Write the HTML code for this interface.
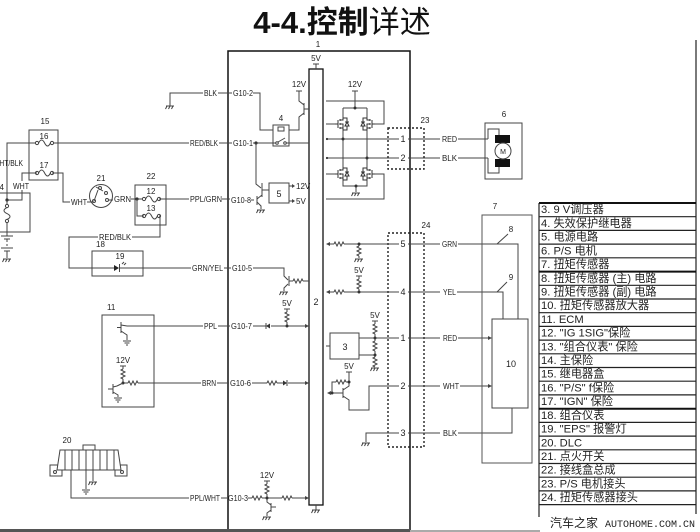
<!DOCTYPE html>
<html><head><meta charset="utf-8">
<style>
html,body{margin:0;padding:0;background:#fff;}
svg{display:block;}
text{font-family:"Liberation Sans","Noto Sans CJK SC",sans-serif;fill:#222;}
.s{font-size:8px;}
.n{font-size:8px;}
.w{stroke:#444;stroke-width:1;fill:none;}
.k{stroke:#222;stroke-width:1.2;fill:none;}
.d{stroke:#222;stroke-width:1.4;fill:none;stroke-dasharray:2 2;}
.lg{font-size:11.2px;fill:#111;}
</style></head><body>
<svg width="700" height="532" viewBox="0 0 700 532" xmlns="http://www.w3.org/2000/svg">
<defs>
 <path id="g" d="M-4,0H4M-3,0l-1.5,3M0,0l-1.5,3M3,0l-1.5,3" stroke="#444" fill="none"/>
 <path id="e" d="M-4,0H4M-2.5,2H2.5M-1,4H1" stroke="#444" fill="none"/>
 <path id="rh" d="M0,0l1,-2l2,4l2,-4l2,4l2,-4l1,2" stroke="#444" fill="none"/>
 <path id="rv" d="M0,0l-2,1l4,2l-4,2l4,2l-4,2l2,1" stroke="#444" fill="none"/>
 <g id="fu"><path d="M1.6,0c2,-4 4,-4 6,0s4,4 5.8,0" stroke="#444" fill="none"/><circle cx="0" cy="0" r="1.6" fill="#fff" stroke="#444"/><circle cx="15" cy="0" r="1.6" fill="#fff" stroke="#444"/></g>
 <g id="mf" stroke="#333" fill="none"><path d="M-8,0H-5M-5,-4V4M-3,-5V-3M-3,-1V1M-3,3V5M-3,-4H0V-6M-3,4H0V6M-3,0H0V4M0,-6H4V-2M0,6H4V2M2,-2H6M2,2L4,-2L6,2Z"/></g>
 <g id="fuv"><path d="M0,1.6c-4,2 -4,4 0,6s4,4 0,5.8" stroke="#444" fill="none"/><circle cx="0" cy="0" r="1.6" fill="#fff" stroke="#444"/><circle cx="0" cy="15" r="1.6" fill="#fff" stroke="#444"/></g>
</defs>

<!-- Title -->
<text x="342" y="33" text-anchor="middle" font-size="31" font-weight="bold" style="fill:#111">4-4.控制<tspan font-weight="normal">详述</tspan></text>

<!-- Box 1 -->
<path d="M228,531V51H410V531" stroke="#111" stroke-width="1.5" fill="none"/>
<text x="318" y="47" class="n" text-anchor="middle" font-size="7">1</text>
<rect x="309" y="69" width="14" height="436" fill="#fff" stroke="#111" stroke-width="1.3"/>
<text x="316" y="61" class="s" text-anchor="middle">5V</text>
<path class="w" d="M313,64H319M316,64V69M316,505V510"/>
<use href="#g" x="316" y="510"/>
<text x="316" y="305" font-size="9" text-anchor="middle">2</text>

<!-- BLK G10-2 -->
<path class="w" d="M170,106V93H203M218,93H232M253,93H260V130H273"/>
<use href="#g" x="170" y="106"/>
<text x="204" y="96" class="s" textLength="13" lengthAdjust="spacingAndGlyphs">BLK</text>
<text x="233" y="96" class="s" textLength="20" lengthAdjust="spacingAndGlyphs">G10-2</text>

<!-- Relay 4 -->
<rect x="273" y="125" width="16" height="21" fill="none" stroke="#444"/>
<text x="281" y="121" class="n" text-anchor="middle">4</text>
<rect x="278" y="127" width="6" height="4" fill="none" stroke="#444"/>
<circle cx="277" cy="143" r="1.3" fill="none" stroke="#444"/>
<circle cx="285" cy="143" r="1.3" fill="none" stroke="#444"/>
<path class="w" d="M278,142L285,138"/>
<path class="w" d="M289,130H299V117L304,113M304,103V115M304,105L299,101V91M304,109H309M296,91H302"/>
<text x="299" y="87" class="s" text-anchor="middle">12V</text>

<!-- RED/BLK G10-1 line -->
<path class="w" d="M7,200V143H37M52,143H189M219,143H232M253,143H276M286,143H309"/>
<circle cx="256" cy="143" r="1.6" fill="#333"/>
<text x="190" y="146" class="s" textLength="28" lengthAdjust="spacingAndGlyphs">RED/BLK</text>
<text x="233" y="146" class="s" textLength="20" lengthAdjust="spacingAndGlyphs">G10-1</text>

<!-- transistors near G10-8 / box 5 -->
<path class="w" d="M256,143V184L261,188M262,183V197M262,190H269M262,195L257,199M251,200H254M257,196V205M257,202L261,206V209"/>
<use href="#g" x="261" y="210"/>
<rect x="269" y="183" width="20" height="20" fill="none" stroke="#444"/>
<text x="279" y="197" font-size="9" text-anchor="middle">5</text>
<path class="w" d="M289,186H292M289,201H292"/>
<path d="M292,184L295,186L292,188ZM292,199L295,201L292,203Z" fill="#444"/>
<text x="296" y="189" class="s">12V</text>
<text x="296" y="204" class="s">5V</text>

<!-- Box 15 -->
<rect x="29" y="130" width="29" height="50" fill="none" stroke="#444"/>
<text x="45" y="124" class="n" text-anchor="middle">15</text>
<text x="44" y="139" class="n" text-anchor="middle">16</text>
<text x="44" y="168" class="n" text-anchor="middle">17</text>
<use href="#fu" x="37" y="143"/>
<use href="#fu" x="37" y="173"/>
<path class="w" d="M37,173H22V181M22,190V200H7M52,173H63V202H70M87,202H94"/>
<text x="23" y="166" class="s" text-anchor="end" textLength="30" lengthAdjust="spacingAndGlyphs">WHT/BLK</text>
<text x="13" y="189" class="s" textLength="16" lengthAdjust="spacingAndGlyphs">WHT</text>
<text x="71" y="205" class="s" textLength="16" lengthAdjust="spacingAndGlyphs">WHT</text>

<!-- Box 14 + battery -->
<path class="w" d="M0,193H30V232H0"/>
<text x="4" y="190" class="n" text-anchor="end">14</text>
<circle cx="7" cy="200" r="1.6" fill="#333"/>
<path class="w" d="M7,200V205M7,221V236"/>
<use href="#fuv" x="7" y="206"/>
<path class="w" d="M1,236H13M4,239H10M7,239V242M7,244V246M1,248H13M4,251H10M7,251V258"/>
<use href="#g" x="7" y="259"/>

<!-- Ignition switch 21 -->
<circle cx="101" cy="196" r="11.5" fill="none" stroke="#444"/>
<text x="101" y="181" class="n" text-anchor="middle">21</text>
<circle cx="94" cy="201" r="1.5" fill="none" stroke="#444"/>
<circle cx="100" cy="188" r="1.5" fill="none" stroke="#444"/>
<circle cx="106" cy="193" r="1.5" fill="none" stroke="#444"/>
<circle cx="107" cy="200" r="1.5" fill="none" stroke="#444"/>
<path class="w" d="M94,201L98,190M96,187L103,191"/>
<path class="w" d="M108,200H113M131,199H144"/>
<text x="114" y="202" class="s" textLength="17" lengthAdjust="spacingAndGlyphs">GRN</text>
<circle cx="137" cy="199" r="1.6" fill="#333"/>

<!-- Box 22 -->
<rect x="135" y="185" width="31" height="40" fill="none" stroke="#444"/>
<text x="151" y="179" class="n" text-anchor="middle">22</text>
<text x="151" y="194" class="n" text-anchor="middle">12</text>
<text x="151" y="211" class="n" text-anchor="middle">13</text>
<use href="#fu" x="144" y="199"/>
<use href="#fu" x="144" y="216"/>
<path class="w" d="M159,199H189M137,199V216H144M159,216H160V237H132M98,237H69V268H114M120,268H191"/>
<text x="190" y="202" class="s" textLength="32" lengthAdjust="spacingAndGlyphs">PPL/GRN</text>
<path class="w" d="M222,199H230"/>
<text x="231" y="203" class="s" textLength="20" lengthAdjust="spacingAndGlyphs">G10-8</text>
<text x="99" y="240" class="s" textLength="32" lengthAdjust="spacingAndGlyphs">RED/BLK</text>

<!-- Box 18 -->
<rect x="92" y="251" width="51" height="25" fill="none" stroke="#444"/>
<text x="96" y="247" class="n">18</text>
<text x="120" y="259" class="n" text-anchor="middle">19</text>
<path d="M114,265L114,271L119,268Z" fill="#222"/>
<path class="w" d="M119.5,264V272M122,264l2,-2M124,265l2,-2"/>
<text x="192" y="271" class="s" textLength="31" lengthAdjust="spacingAndGlyphs">GRN/YEL</text>
<path class="w" d="M224,268H231M253,268H284V276L288,280M289,276V286M288,284L284,288V291M289,281H293M303,281H309"/>
<use href="#rh" x="293" y="281"/>
<use href="#g" x="284" y="292"/>
<text x="232" y="271" class="s" textLength="20" lengthAdjust="spacingAndGlyphs">G10-5</text>

<!-- Box 11 -->
<rect x="102" y="315" width="52" height="92" fill="none" stroke="#444"/>
<text x="107" y="310" class="n">11</text>
<path class="w" d="M127,326H203M121,322V333M117,327.5H121M121,325L127,326M121,331L127,335V340"/>
<use href="#e" x="127" y="341"/>
<text x="204" y="329" class="s" textLength="13" lengthAdjust="spacingAndGlyphs">PPL</text>
<path class="w" d="M218,326H230M253,326H266M271,326H305M287,326V322M284,309H290M287,309V312"/>
<path d="M266,326L270,323.5V328.5Z" fill="#333"/>
<path class="w" d="M266,323V329"/>
<use href="#rv" x="287" y="312"/>
<circle cx="287" cy="326" r="1.5" fill="#333"/>
<path d="M305,324L309,326L305,328Z" fill="#444"/>
<text x="287" y="306" class="s" text-anchor="middle">5V</text>
<text x="231" y="329" class="s" textLength="21" lengthAdjust="spacingAndGlyphs">G10-7</text>

<text x="123" y="363" class="s" text-anchor="middle">12V</text>
<path class="w" d="M120,366H126M123,366V369M123,379V383H128M138,383H201"/>
<use href="#rv" x="123" y="369"/>
<use href="#rh" x="128" y="383"/>
<circle cx="123" cy="383" r="1.5" fill="#333"/>
<path class="w" d="M123,383L117,386M113,384V394M108,389H113M113,387L117,386M113,392L118,395V397"/>
<use href="#e" x="118" y="398"/>
<text x="202" y="386" class="s" textLength="14" lengthAdjust="spacingAndGlyphs">BRN</text>
<path class="w" d="M217,383H229M252,383H267M277,383H283M288,383H305"/>
<use href="#rh" x="267" y="383"/>
<path d="M287,383L283,380.5V385.5Z" fill="#333"/>
<path class="w" d="M287,380V386"/>
<path d="M305,381L309,383L305,385Z" fill="#444"/>
<text x="230" y="386" class="s" textLength="21" lengthAdjust="spacingAndGlyphs">G10-6</text>

<!-- DLC 20 -->
<text x="67" y="443" class="n" text-anchor="middle">20</text>
<rect x="50" y="465" width="12" height="11" fill="#fff" stroke="#444"/>
<rect x="115" y="465" width="12" height="11" fill="#fff" stroke="#444"/>
<circle cx="55" cy="472" r="1.5" fill="none" stroke="#444"/>
<circle cx="122" cy="472" r="1.5" fill="none" stroke="#444"/>
<path d="M60,450H118L121,470H57Z" fill="#fff" stroke="#444"/>
<path class="w" d="M83,450V445H95V450M65,450V470M72,450V470M79,450V470M86,450V470M93,450V470M100,450V470M107,450V470M114,450V470"/>
<path class="w" d="M71,470V498H189M86,470V489M93,470V481"/>
<use href="#e" x="86" y="490"/>
<use href="#g" x="93" y="482"/>
<text x="190" y="501" class="s" textLength="30" lengthAdjust="spacingAndGlyphs">PPL/WHT</text>
<path class="w" d="M221,498H227M248,498H252M262,498H282M292,498H305M264,481H270M267,481V484M267,494V498V502L271,505M271,503V512M271,510L267,513V516M271,507H276"/>
<use href="#rh" x="252" y="498"/>
<use href="#rh" x="282" y="498"/>
<use href="#rv" x="267" y="484"/>
<circle cx="267" cy="498" r="1.5" fill="#333"/>
<use href="#g" x="267" y="517"/>
<path d="M305,496L309,498L305,500Z" fill="#444"/>
<text x="267" y="478" class="s" text-anchor="middle">12V</text>
<text x="228" y="501" class="s" textLength="20" lengthAdjust="spacingAndGlyphs">G10-3</text>

<!-- H-bridge -->
<text x="355" y="87" class="s" text-anchor="middle">12V</text>
<path class="w" d="M352,91H358M355,91V108M343,108H367M343,108V118M343,130V168M343,180V186H367V180M367,168V130M367,118V108M356,186V192"/>
<circle cx="355" cy="108" r="1.5" fill="#333"/>
<circle cx="356" cy="186" r="1.5" fill="#333"/>
<use href="#g" x="356" y="193"/>
<use href="#mf" transform="translate(343,124)"/>
<use href="#mf" transform="translate(367,124) scale(-1,1)"/>
<use href="#mf" transform="translate(343,174)"/>
<use href="#mf" transform="translate(367,174) scale(-1,1)"/>
<path class="w" d="M326,124H335M326,101H384V124H375M326,174H335M375,174H384V199H326"/>
<path class="w" d="M326,139H399M408,139H440M458,139H488M326,158H399M408,158H440M458,158H488"/>
<circle cx="343" cy="139" r="1.5" fill="#333"/>
<circle cx="367" cy="158" r="1.5" fill="#333"/>
<circle cx="327" cy="139" r="1.1" fill="#333"/>
<circle cx="327" cy="158" r="1.1" fill="#333"/>
<rect x="388" y="128" width="36" height="41" class="d"/>
<text x="425" y="123" class="n" text-anchor="middle">23</text>
<text x="403" y="142" font-size="9" text-anchor="middle">1</text>
<text x="403" y="161" font-size="9" text-anchor="middle">2</text>
<text x="442" y="142" class="s" textLength="15" lengthAdjust="spacingAndGlyphs">RED</text>
<text x="442" y="161" class="s" textLength="15" lengthAdjust="spacingAndGlyphs">BLK</text>

<!-- Motor 6 -->
<rect x="485" y="123" width="37" height="56" fill="none" stroke="#444"/>
<text x="504" y="117" class="n" text-anchor="middle">6</text>
<path class="w" d="M488,139V129H499V135M488,158V173H499V167"/>
<rect x="495" y="135" width="15" height="8" fill="#111"/>
<rect x="495" y="159" width="15" height="8" fill="#111"/>
<circle cx="503" cy="151" r="8" fill="#fff" stroke="#444"/>
<text x="503" y="154" font-size="7" text-anchor="middle">M</text>

<!-- Connector 24 -->
<rect x="388" y="233" width="36" height="214" class="d"/>
<text x="426" y="228" class="n" text-anchor="middle">24</text>

<!-- row 5 -->
<path d="M326,244L330,242V246Z" fill="#444"/>
<path class="w" d="M330,244H334M344,244H399M359,244V246M359,256V258M408,244H440M458,244H518V319"/>
<use href="#rh" x="334" y="244"/>
<use href="#rv" x="359" y="246"/>
<circle cx="359" cy="244" r="1.5" fill="#333"/>
<use href="#g" x="359" y="259"/>
<text x="403" y="247" font-size="9" text-anchor="middle">5</text>
<text x="442" y="247" class="s" textLength="15" lengthAdjust="spacingAndGlyphs">GRN</text>

<!-- row 4 -->
<path d="M326,292L330,290V294Z" fill="#444"/>
<path class="w" d="M330,292H334M344,292H399M356,276H362M359,276V279M359,289V292M408,292H440M457,292H503V319"/>
<use href="#rh" x="334" y="292"/>
<use href="#rv" x="359" y="279"/>
<circle cx="359" cy="292" r="1.5" fill="#333"/>
<text x="359" y="273" class="s" text-anchor="middle">5V</text>
<text x="403" y="295" font-size="9" text-anchor="middle">4</text>
<text x="443" y="295" class="s" textLength="13" lengthAdjust="spacingAndGlyphs">YEL</text>

<!-- row 1 -->
<rect x="330" y="333" width="29" height="26" fill="none" stroke="#444"/>
<text x="345" y="350" font-size="9" text-anchor="middle">3</text>
<path class="w" d="M326,346H330M359,338H399M359,355H375M372,321H378M375,321V324M375,334V341M375,351V357M408,338H440M458,338H488"/>
<use href="#rv" x="375" y="324"/>
<use href="#rv" x="375" y="341"/>
<use href="#rv" x="375" y="357"/>
<circle cx="375" cy="338" r="1.5" fill="#333"/>
<circle cx="375" cy="355" r="1.5" fill="#333"/>
<use href="#g" x="375" y="368"/>
<text x="375" y="318" class="s" text-anchor="middle">5V</text>
<text x="403" y="341" font-size="9" text-anchor="middle">1</text>
<text x="443" y="341" class="s" textLength="14" lengthAdjust="spacingAndGlyphs">RED</text>
<path d="M488,336L492,338L488,340Z" fill="#444"/>

<!-- row 2 -->
<text x="349" y="369" class="s" text-anchor="middle">5V</text>
<path class="w" d="M346,372H352M349,372V382H346M336,382H332V393M331,393H343M343,388V398M343,390L349,386V382M343,396L349,400V410H369V386H399M408,386H440M460,386H488"/>
<use href="#rh" x="336" y="382"/>
<circle cx="349" cy="382" r="1.5" fill="#333"/>
<circle cx="332" cy="393" r="1.5" fill="#333"/>
<path d="M327,393L331,391V395Z" fill="#444"/>
<text x="403" y="389" font-size="9" text-anchor="middle">2</text>
<text x="443" y="389" class="s" textLength="16" lengthAdjust="spacingAndGlyphs">WHT</text>
<path d="M488,384L492,386L488,388Z" fill="#444"/>

<!-- row 3 -->
<path class="w" d="M366,442V433H399M408,433H440M458,433H512V408"/>
<use href="#g" x="366" y="443"/>
<text x="403" y="436" font-size="9" text-anchor="middle">3</text>
<text x="443" y="436" class="s" textLength="14" lengthAdjust="spacingAndGlyphs">BLK</text>

<!-- Box 7 / 10 -->
<rect x="482" y="215" width="50" height="248" fill="none" stroke="#555"/>
<text x="495" y="209" class="n" text-anchor="middle">7</text>
<rect x="492" y="319" width="36" height="89" fill="none" stroke="#444"/>
<text x="511" y="367" font-size="9" text-anchor="middle">10</text>
<text x="511" y="232" class="n" text-anchor="middle">8</text>
<text x="511" y="280" class="n" text-anchor="middle">9</text>
<path class="w" d="M497,244L508,234M497,292L507,282"/>

<!-- Frame / table -->
<path class="k" d="M696,40V514M539,203V517"/>
<g class="k">
<path d="M539,203H696M539,216.7H696M539,230.4H696M539,244.1H696M539,257.8H696M539,271.6H696M539,285.3H696M539,299H696M539,312.7H696M539,326.4H696M539,340.1H696M539,353.8H696M539,367.5H696M539,381.2H696M539,394.9H696M539,408.7H696M539,422.4H696M539,436.1H696M539,449.8H696M539,463.5H696M539,477.2H696M539,490.9H696M539,504.6H696"/>
</g>
<path d="M539,271.6H696M539,408.7H696M539,203H696" stroke="#111" stroke-width="2"/>
<g class="lg">
<text x="541" y="213.2">3. 9 V调压器</text>
<text x="541" y="226.9">4. 失效保护继电器</text>
<text x="541" y="240.6">5. 电源电路</text>
<text x="541" y="254.3">6. P/S 电机</text>
<text x="541" y="268">7. 扭矩传感器</text>
<text x="541" y="281.8">8. 扭矩传感器 (主) 电路</text>
<text x="541" y="295.5">9. 扭矩传感器 (副) 电路</text>
<text x="541" y="309.2">10. 扭矩传感器放大器</text>
<text x="541" y="322.9">11. ECM</text>
<text x="541" y="336.6">12. "IG 1SIG"保险</text>
<text x="541" y="350.3">13. "组合仪表" 保险</text>
<text x="541" y="364">14. 主保险</text>
<text x="541" y="377.7">15. 继电器盒</text>
<text x="541" y="391.4">16. "P/S" f保险</text>
<text x="541" y="405.1">17. "IGN" 保险</text>
<text x="541" y="418.9">18. 组合仪表</text>
<text x="541" y="432.6">19. "EPS" 报警灯</text>
<text x="541" y="446.3">20. DLC</text>
<text x="541" y="460">21. 点火开关</text>
<text x="541" y="473.7">22. 接线盒总成</text>
<text x="541" y="487.4">23. P/S 电机接头</text>
<text x="541" y="501.1">24. 扭矩传感器接头</text>
</g>

<!-- Watermark -->
<text x="550" y="527" font-size="12" style="fill:#222">汽车之家</text>
<text x="605" y="527" textLength="90" lengthAdjust="spacingAndGlyphs" style="font-family:'Liberation Mono',monospace;font-size:10px;fill:#222">AUTOHOME.COM.CN</text>

<!-- bottom bar -->
<rect x="0" y="529" width="410" height="3" fill="#555"/>
<rect x="410" y="530" width="130" height="2" fill="#aaa"/>
</svg>
</body></html>
